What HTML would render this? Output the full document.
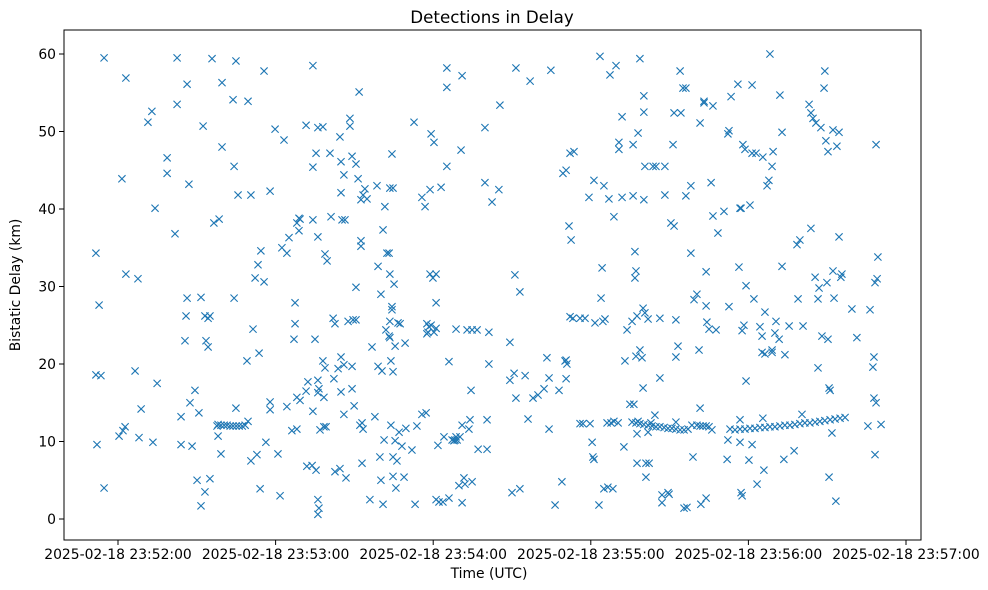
<!DOCTYPE html>
<html><head><meta charset="utf-8"><title>Detections in Delay</title>
<style>
html,body{margin:0;padding:0;background:#fff;}
svg{display:block;font-family:"DejaVu Sans","Liberation Sans",sans-serif;}
</style></head>
<body>
<svg id="chart" width="988" height="590" viewBox="0 0 988 590">
  <rect x="0" y="0" width="988" height="590" fill="#fff"/>
  <text x="492" y="23" text-anchor="middle" font-size="16.7" fill="#000">Detections in Delay</text>
  <g id="marks"></g>
  <g id="axes"></g>
  <rect x="64" y="30" width="857" height="510" fill="none" stroke="#000" stroke-width="1"/>
  <text x="489" y="578" text-anchor="middle" font-size="13.9" fill="#000">Time (UTC)</text>
  <text transform="translate(20,285) rotate(-90)" text-anchor="middle" font-size="13.9" fill="#000">Bistatic Delay (km)</text>
</svg>
<script>
// seconds after 23:51:00 UTC
const timesSec = [
51.6,52.0,52.8,51.6,53.5,54.7,54.7,60.4,61.5,61.9,63.0,63.0,62.7,66.5,67.6,68.0,68.8,71.4,72.9,73.3,74.1,74.9,78.7,78.7,81.7,82.5,82.5,84.0,84.0,
85.5,85.9,86.3,86.3,87.0,87.4,88.2,89.3,90.1,90.8,91.6,91.6,92.4,93.1,93.1,93.5,94.3,95.0,95.0,95.8,96.5,94.3,98.1,97.7,98.5,99.2,99.6,99.6,
103.8,104.2,104.2,104.9,104.9,105.7,109.1,109.5,110.6,110.6,111.4,112.2,112.9,113.3,113.7,114.1,114.4,115.6,115.6,116.3,117.9,117.9,117.9,
119.8,120.9,121.7,122.4,123.2,124.3,124.3,125.1,126.2,127.0,127.4,127.4,128.1,128.1,128.1,128.9,128.9,129.3,129.3,131.6,131.6,131.9,132.3,
133.9,134.2,134.2,134.2,134.2,135.0,135.4,135.4,136.1,136.1,136.1,136.1,136.1,136.1,136.5,136.5,136.9,138.0,138.0,138.4,138.4,138.8,138.8,139.2,139.6,
140.7,141.1,141.9,142.2,142.6,142.6,143.8,144.5,144.5,144.9,144.9,144.9,144.9,145.3,146.0,146.0,146.0,146.4,146.8,147.6,148.3,148.3,
149.1,149.1,149.5,149.1,149.9,150.6,150.6,150.6,151.4,151.8,152.1,152.5,152.5,152.9,152.5,152.9,153.3,153.3,154.0,154.8,155.9,156.7,157.8,158.6,159.0,159.0,
159.7,160.1,160.1,160.5,160.9,160.9,161.3,161.6,162.0,162.4,163.2,163.2,163.5,163.5,163.5,163.5,163.9,163.9,164.3,164.3,164.3,164.7,164.7,164.7,164.7,
165.1,165.5,165.5,165.8,166.2,166.6,167.0,167.4,168.1,168.9,169.3,169.6,171.9,172.7,173.1,173.8,175.7,175.7,176.9,177.3,177.6,177.6,178.0,178.4,
178.8,178.8,179.2,179.2,179.9,180.3,180.3,181.1,181.1,181.1,181.1,181.8,182.2,183.0,183.7,184.1,185.2,185.2,185.2,186.0,186.0,187.2,187.9,188.3,188.7,188.7,189.1,
189.8,190.2,190.6,191.0,191.0,191.0,191.7,192.1,192.9,193.6,194.0,194.4,194.8,194.8,196.7,197.1,199.7,199.7,200.5,200.5,201.2,201.2,202.4,205.0,205.4,
209.2,209.2,210.0,210.8,211.1,211.5,211.5,213.0,213.0,215.0,216.1,216.9,218.0,219.9,222.2,223.3,224.1,224.1,224.8,226.4,227.9,229.0,230.2,229.4,230.6,230.6,230.6,230.9,
231.7,232.1,232.1,232.5,233.2,233.6,235.9,235.9,237.0,237.8,239.3,239.7,240.5,240.8,241.2,241.2,241.6,243.1,243.5,243.9,244.3,244.6,245.0,245.0,245.4,
246.2,246.5,246.9,247.3,247.7,248.4,248.8,248.8,249.6,250.4,250.7,250.7,251.9,251.9,252.6,253.0,253.8,254.9,255.7,256.1,256.1,256.4,256.8,256.8,257.2,257.2,
257.6,257.6,257.6,258.0,258.0,258.7,258.7,259.5,259.9,259.9,260.2,260.2,260.2,260.6,260.6,261.0,261.0,261.8,261.8,262.2,262.9,263.7,264.4,264.8,
266.3,266.3,267.1,267.1,268.2,268.2,269.4,269.8,270.5,271.3,271.7,271.7,272.4,272.4,272.4,273.2,274.0,274.3,275.1,275.5,276.2,276.2,276.6,278.1,278.1,278.9,279.3,
280.4,281.2,281.6,281.6,281.9,283.1,283.1,283.9,283.9,283.9,284.2,285.0,285.8,286.5,286.5,287.7,288.4,290.7,291.9,292.2,292.2,292.6,292.6,293.0,293.4,
296.0,296.4,296.8,296.8,297.2,296.8,297.2,297.6,297.6,297.9,298.3,298.7,299.1,299.1,300.2,300.6,301.4,301.4,301.4,302.1,302.9,303.3,
304.4,305.2,305.2,305.5,305.5,305.9,306.3,306.3,307.1,307.8,308.2,309.0,309.0,309.0,309.4,310.1,310.5,311.7,312.0,312.8,312.8,313.5,313.9,315.5,
317.4,318.5,318.9,319.6,320.4,320.8,323.1,323.8,323.8,324.6,325.4,325.7,326.5,326.5,326.9,327.6,328.0,328.8,329.1,329.5,329.9,330.3,330.3,330.7,330.7,331.1,
331.8,332.2,332.2,332.6,333.3,333.7,334.5,334.5,335.2,335.6,339.4,341.3,345.5,346.3,347.4,347.8,347.8,348.2,348.2,348.6,348.6,349.0,349.3,350.5,
98.1,99.2,100.4,101.5,102.7,103.8,105.0,106.1,107.3,108.4,109.5,
255.7,257.2,258.7,260.2,261.8,263.3,264.8,266.3,267.9,269.4,270.9,272.4,274.0,275.5,277.0,278.5,
280.4,281.6,282.7,283.9,285.0,286.1,
294.9,296.8,298.7,300.6,302.5,304.4,306.3,308.2,310.1,312.0,313.9,315.8,317.7,319.6,321.5,323.4,325.4,327.2,329.1,331.1,333.0,334.9,336.8,338.7
];
const delayKm = [
34.3,9.6,27.6,18.6,18.5,59.5,4.0,10.7,43.9,11.4,56.9,31.6,11.9,19.1,31.0,10.5,14.2,51.2,52.6,9.9,40.1,17.5,46.6,44.6,36.8,53.5,59.5,13.2,9.6,
23.0,26.2,28.5,56.1,43.2,15.0,9.4,16.6,5.0,13.7,1.7,28.6,50.7,26.2,3.5,23.0,25.9,5.2,26.2,59.4,38.2,22.2,10.7,12.0,38.7,8.4,56.3,48.0,
54.1,45.5,28.5,14.3,59.1,41.8,20.4,53.9,41.8,7.5,24.5,31.1,8.3,32.8,21.4,3.9,34.6,57.8,30.6,9.9,42.3,14.1,15.1,
50.3,8.4,3.0,35.0,48.9,14.5,34.3,36.3,11.4,23.2,27.9,25.2,11.6,15.7,38.2,38.8,37.2,15.3,38.7,16.5,50.8,6.8,17.7,
6.9,58.5,45.4,38.6,13.9,23.2,47.2,6.3,50.5,36.4,2.5,16.3,17.9,0.6,16.8,1.4,11.5,50.6,20.4,11.9,15.7,34.2,19.5,11.9,33.3,
47.2,39.0,25.9,18.1,6.1,25.2,19.4,6.5,49.3,46.1,42.1,20.9,16.4,38.6,19.9,13.5,44.4,38.6,5.3,25.5,51.7,50.7,
16.8,19.7,25.7,46.8,14.6,29.9,45.8,25.7,43.9,55.1,12.1,35.2,41.2,12.4,35.9,7.2,11.6,41.8,42.6,41.3,2.5,22.2,13.2,43.0,32.6,19.7,
8.0,29.0,5.0,19.1,37.3,1.9,10.2,40.3,24.4,34.3,34.3,23.6,23.4,42.7,31.6,25.5,20.4,12.1,27.0,47.1,27.4,42.7,19.0,5.5,8.0,
30.3,10.1,22.3,4.0,7.5,25.3,11.2,25.2,9.4,5.4,22.7,11.7,8.9,51.2,1.9,12.0,13.5,41.5,40.3,13.7,25.2,23.9,24.1,24.8,
31.6,42.5,49.7,25.0,31.1,48.6,24.1,31.6,24.6,27.9,2.5,9.5,2.2,42.8,2.2,10.6,45.5,58.2,55.7,20.3,2.7,10.2,10.1,10.2,24.5,10.6,10.2,
4.3,10.6,47.6,2.1,57.2,12.1,5.3,4.5,24.4,11.6,12.8,16.6,4.8,24.4,24.4,9.0,43.4,50.5,9.0,12.8,24.1,20.0,40.9,42.5,53.4,
22.8,17.9,3.4,18.8,31.5,58.2,15.6,3.9,29.3,18.5,12.9,56.5,15.6,16.0,16.8,20.8,11.6,18.2,57.9,1.8,16.6,4.8,20.4,44.6,18.1,20.5,45.0,20.0,
37.8,47.2,26.1,36.0,25.9,47.4,12.3,25.9,12.3,25.9,41.5,12.3,9.9,8.0,43.7,7.7,25.3,1.8,59.7,28.5,32.4,25.5,3.9,43.0,25.8,
12.4,4.1,41.3,57.3,12.4,3.9,39.0,12.6,58.5,12.4,47.7,48.6,51.9,41.5,9.3,20.4,24.4,14.8,25.5,48.3,41.7,14.8,31.1,34.5,32.0,21.0,
11.0,7.2,26.2,12.6,49.8,59.4,21.8,20.8,16.9,27.2,54.6,52.5,41.2,45.5,26.6,7.2,5.4,25.8,11.2,7.2,12.4,45.5,13.4,45.5,
25.9,18.2,3.1,2.1,41.8,45.5,3.4,3.2,38.2,48.3,37.8,52.4,25.7,20.9,12.5,22.3,57.8,52.4,55.6,1.4,55.6,41.7,1.5,34.3,43.0,8.0,28.3,
29.0,21.8,51.1,14.3,1.9,53.9,53.7,2.7,31.9,27.5,25.4,24.5,43.4,53.3,39.1,24.4,36.9,39.7,7.7,10.2,49.7,50.1,27.4,11.6,
54.5,56.1,32.5,40.1,12.8,40.1,9.9,3.4,3.0,24.3,48.3,25.0,47.7,17.8,30.1,7.6,40.5,56.0,47.2,9.6,28.4,47.2,
4.5,24.8,21.5,23.6,13.0,46.7,6.3,26.7,21.3,43.0,43.7,60.0,21.8,21.5,45.5,47.4,24.0,25.5,23.2,54.7,32.6,49.9,7.7,21.2,
24.9,8.8,35.4,28.4,36.0,13.5,24.9,53.5,37.5,52.4,51.7,31.2,51.1,28.4,19.5,29.8,50.5,23.6,55.6,57.8,48.8,30.5,23.2,47.4,16.9,5.4,
16.6,11.1,50.2,32.0,28.5,2.3,48.1,49.9,36.4,31.2,31.6,27.1,23.4,12.0,27.0,19.6,20.9,15.6,8.3,30.5,48.3,15.0,31.0,33.8,
12.2,12.2,12.1,12.1,12.1,12.0,12.0,12.0,12.0,12.0,12.1,
12.6,12.5,12.4,12.3,12.2,12.1,12.0,11.9,11.9,11.8,11.7,11.7,11.6,11.5,11.5,11.6,
12.1,12.1,12.0,12.0,12.0,11.9,
11.5,11.5,11.6,11.6,11.7,11.7,11.8,11.8,11.9,11.9,12.0,12.1,12.1,12.2,12.3,12.4,12.4,12.5,12.6,12.7,12.8,12.9,13.0,13.1
];
const xTickSec = [60,120,180,240,300,360];
const xTickLabels = ["2025-02-18 23:52:00","2025-02-18 23:53:00","2025-02-18 23:54:00","2025-02-18 23:55:00","2025-02-18 23:56:00","2025-02-18 23:57:00"];
const yTicks = [0,10,20,30,40,50,60];

const NS = "http://www.w3.org/2000/svg";
function xScale(t){ return 118 + (t - 60) * 157.6 / 60; }
function yScale(d){ return 519 - d * 7.75; }

const marks = document.getElementById('marks');
const n = Math.min(timesSec.length, delayKm.length);
for (let i = 0; i < n; i++) {
  const cx = xScale(timesSec[i]), cy = yScale(delayKm[i]), r = 3.6;
  const p = document.createElementNS(NS, 'path');
  p.setAttribute('d', `M${cx-r},${cy-r}L${cx+r},${cy+r}M${cx-r},${cy+r}L${cx+r},${cy-r}`);
  p.setAttribute('stroke', '#1f77b4');
  p.setAttribute('stroke-width', '1.1');
  p.setAttribute('fill', 'none');
  
  
  marks.appendChild(p);
}

const axes = document.getElementById('axes');
xTickSec.forEach((t, i) => {
  const x = xScale(t);
  const l = document.createElementNS(NS, 'line');
  l.setAttribute('x1', x); l.setAttribute('x2', x);
  l.setAttribute('y1', 540); l.setAttribute('y2', 545);
  l.setAttribute('stroke', '#000');
  
  
  axes.appendChild(l);
  const tx = document.createElementNS(NS, 'text');
  tx.setAttribute('x', x); tx.setAttribute('y', 559);
  tx.setAttribute('text-anchor', 'middle');
  tx.setAttribute('font-size', '13.9');
  tx.textContent = xTickLabels[i];
  
  
  axes.appendChild(tx);
});
yTicks.forEach(v => {
  const y = yScale(v);
  const l = document.createElementNS(NS, 'line');
  l.setAttribute('x1', 59); l.setAttribute('x2', 64);
  l.setAttribute('y1', y); l.setAttribute('y2', y);
  l.setAttribute('stroke', '#000');
  
  
  axes.appendChild(l);
  const tx = document.createElementNS(NS, 'text');
  tx.setAttribute('x', 56); tx.setAttribute('y', y + 5);
  tx.setAttribute('text-anchor', 'end');
  tx.setAttribute('font-size', '13.9');
  tx.textContent = String(v);
  
  
  axes.appendChild(tx);
});
</script>
</body></html>
